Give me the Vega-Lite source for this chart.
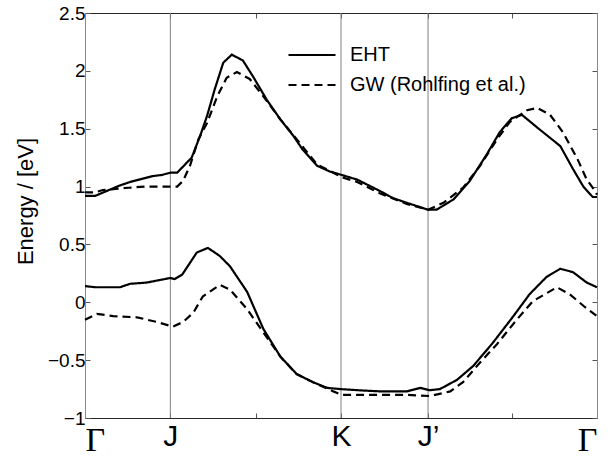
{
  "$schema": "https://vega.github.io/schema/vega-lite/v6.json",
  "autosize": {"type": "none"},
  "padding": {"left": 85, "top": 13, "right": 13, "bottom": 40},
  "width": 512,
  "height": 405,
  "background": "white",
  "config": {
    "view": {"stroke": null},
    "font": "Liberation Sans"
  },
  "datasets": {
    "kpts": [{"x": 1}, {"x": 3}, {"x": 4.02}],
    "bands": [
      {"x": 0, "E": 0.92, "s": "EHT", "b": "u"}, {"x": 0.12, "E": 0.92, "s": "EHT", "b": "u"}, {"x": 0.41, "E": 1.01, "s": "EHT", "b": "u"}, {"x": 0.53, "E": 1.04, "s": "EHT", "b": "u"}, {"x": 0.79, "E": 1.09, "s": "EHT", "b": "u"}, {"x": 0.9, "E": 1.1, "s": "EHT", "b": "u"}, {"x": 1.0, "E": 1.12, "s": "EHT", "b": "u"}, {"x": 1.08, "E": 1.12, "s": "EHT", "b": "u"}, {"x": 1.25, "E": 1.25, "s": "EHT", "b": "u"}, {"x": 1.35, "E": 1.44, "s": "EHT", "b": "u"}, {"x": 1.43, "E": 1.61, "s": "EHT", "b": "u"}, {"x": 1.52, "E": 1.84, "s": "EHT", "b": "u"}, {"x": 1.62, "E": 2.07, "s": "EHT", "b": "u"}, {"x": 1.72, "E": 2.14, "s": "EHT", "b": "u"}, {"x": 1.85, "E": 2.09, "s": "EHT", "b": "u"}, {"x": 1.97, "E": 1.95, "s": "EHT", "b": "u"}, {"x": 2.13, "E": 1.75, "s": "EHT", "b": "u"}, {"x": 2.29, "E": 1.58, "s": "EHT", "b": "u"}, {"x": 2.44, "E": 1.44, "s": "EHT", "b": "u"}, {"x": 2.55, "E": 1.32, "s": "EHT", "b": "u"}, {"x": 2.72, "E": 1.18, "s": "EHT", "b": "u"}, {"x": 2.87, "E": 1.13, "s": "EHT", "b": "u"}, {"x": 3.01, "E": 1.1, "s": "EHT", "b": "u"}, {"x": 3.19, "E": 1.06, "s": "EHT", "b": "u"}, {"x": 3.46, "E": 0.96, "s": "EHT", "b": "u"}, {"x": 3.61, "E": 0.9, "s": "EHT", "b": "u"}, {"x": 3.77, "E": 0.86, "s": "EHT", "b": "u"}, {"x": 4.02, "E": 0.8, "s": "EHT", "b": "u"}, {"x": 4.12, "E": 0.8, "s": "EHT", "b": "u"}, {"x": 4.32, "E": 0.89, "s": "EHT", "b": "u"}, {"x": 4.51, "E": 1.05, "s": "EHT", "b": "u"}, {"x": 4.71, "E": 1.28, "s": "EHT", "b": "u"}, {"x": 4.86, "E": 1.47, "s": "EHT", "b": "u"}, {"x": 5.0, "E": 1.59, "s": "EHT", "b": "u"}, {"x": 5.12, "E": 1.62, "s": "EHT", "b": "u"}, {"x": 5.3, "E": 1.51, "s": "EHT", "b": "u"}, {"x": 5.57, "E": 1.35, "s": "EHT", "b": "u"}, {"x": 5.72, "E": 1.15, "s": "EHT", "b": "u"}, {"x": 5.84, "E": 1.0, "s": "EHT", "b": "u"}, {"x": 5.95, "E": 0.91, "s": "EHT", "b": "u"}, {"x": 6.0, "E": 0.91, "s": "EHT", "b": "u"},
      {"x": 0, "E": 0.95, "s": "GW (Rohlfing et al.)", "b": "u"}, {"x": 0.12, "E": 0.95, "s": "GW (Rohlfing et al.)", "b": "u"}, {"x": 0.21, "E": 0.97, "s": "GW (Rohlfing et al.)", "b": "u"}, {"x": 0.51, "E": 0.99, "s": "GW (Rohlfing et al.)", "b": "u"}, {"x": 0.72, "E": 1.0, "s": "GW (Rohlfing et al.)", "b": "u"}, {"x": 1.08, "E": 1.0, "s": "GW (Rohlfing et al.)", "b": "u"}, {"x": 1.15, "E": 1.05, "s": "GW (Rohlfing et al.)", "b": "u"}, {"x": 1.23, "E": 1.18, "s": "GW (Rohlfing et al.)", "b": "u"}, {"x": 1.33, "E": 1.41, "s": "GW (Rohlfing et al.)", "b": "u"}, {"x": 1.43, "E": 1.55, "s": "GW (Rohlfing et al.)", "b": "u"}, {"x": 1.55, "E": 1.78, "s": "GW (Rohlfing et al.)", "b": "u"}, {"x": 1.66, "E": 1.94, "s": "GW (Rohlfing et al.)", "b": "u"}, {"x": 1.78, "E": 1.99, "s": "GW (Rohlfing et al.)", "b": "u"}, {"x": 1.93, "E": 1.93, "s": "GW (Rohlfing et al.)", "b": "u"}, {"x": 2.09, "E": 1.78, "s": "GW (Rohlfing et al.)", "b": "u"}, {"x": 2.29, "E": 1.58, "s": "GW (Rohlfing et al.)", "b": "u"}, {"x": 2.48, "E": 1.41, "s": "GW (Rohlfing et al.)", "b": "u"}, {"x": 2.72, "E": 1.19, "s": "GW (Rohlfing et al.)", "b": "u"}, {"x": 2.91, "E": 1.12, "s": "GW (Rohlfing et al.)", "b": "u"}, {"x": 3.01, "E": 1.08, "s": "GW (Rohlfing et al.)", "b": "u"}, {"x": 3.19, "E": 1.04, "s": "GW (Rohlfing et al.)", "b": "u"}, {"x": 3.46, "E": 0.94, "s": "GW (Rohlfing et al.)", "b": "u"}, {"x": 3.77, "E": 0.85, "s": "GW (Rohlfing et al.)", "b": "u"}, {"x": 4.02, "E": 0.8, "s": "GW (Rohlfing et al.)", "b": "u"}, {"x": 4.2, "E": 0.86, "s": "GW (Rohlfing et al.)", "b": "u"}, {"x": 4.43, "E": 0.99, "s": "GW (Rohlfing et al.)", "b": "u"}, {"x": 4.63, "E": 1.18, "s": "GW (Rohlfing et al.)", "b": "u"}, {"x": 4.83, "E": 1.41, "s": "GW (Rohlfing et al.)", "b": "u"}, {"x": 4.98, "E": 1.56, "s": "GW (Rohlfing et al.)", "b": "u"}, {"x": 5.18, "E": 1.66, "s": "GW (Rohlfing et al.)", "b": "u"}, {"x": 5.3, "E": 1.68, "s": "GW (Rohlfing et al.)", "b": "u"}, {"x": 5.45, "E": 1.62, "s": "GW (Rohlfing et al.)", "b": "u"}, {"x": 5.6, "E": 1.47, "s": "GW (Rohlfing et al.)", "b": "u"}, {"x": 5.77, "E": 1.24, "s": "GW (Rohlfing et al.)", "b": "u"}, {"x": 5.88, "E": 1.06, "s": "GW (Rohlfing et al.)", "b": "u"}, {"x": 5.98, "E": 0.96, "s": "GW (Rohlfing et al.)", "b": "u"}, {"x": 6.0, "E": 0.93, "s": "GW (Rohlfing et al.)", "b": "u"},
      {"x": 0, "E": 0.14, "s": "EHT", "b": "l"}, {"x": 0.12, "E": 0.13, "s": "EHT", "b": "l"}, {"x": 0.41, "E": 0.13, "s": "EHT", "b": "l"}, {"x": 0.53, "E": 0.16, "s": "EHT", "b": "l"}, {"x": 0.72, "E": 0.17, "s": "EHT", "b": "l"}, {"x": 1.0, "E": 0.21, "s": "EHT", "b": "l"}, {"x": 1.05, "E": 0.2, "s": "EHT", "b": "l"}, {"x": 1.14, "E": 0.24, "s": "EHT", "b": "l"}, {"x": 1.31, "E": 0.43, "s": "EHT", "b": "l"}, {"x": 1.44, "E": 0.47, "s": "EHT", "b": "l"}, {"x": 1.58, "E": 0.4, "s": "EHT", "b": "l"}, {"x": 1.7, "E": 0.31, "s": "EHT", "b": "l"}, {"x": 1.9, "E": 0.09, "s": "EHT", "b": "l"}, {"x": 2.09, "E": -0.23, "s": "EHT", "b": "l"}, {"x": 2.29, "E": -0.47, "s": "EHT", "b": "l"}, {"x": 2.48, "E": -0.62, "s": "EHT", "b": "l"}, {"x": 2.67, "E": -0.69, "s": "EHT", "b": "l"}, {"x": 2.84, "E": -0.74, "s": "EHT", "b": "l"}, {"x": 2.99, "E": -0.75, "s": "EHT", "b": "l"}, {"x": 3.2, "E": -0.76, "s": "EHT", "b": "l"}, {"x": 3.46, "E": -0.77, "s": "EHT", "b": "l"}, {"x": 3.77, "E": -0.77, "s": "EHT", "b": "l"}, {"x": 3.93, "E": -0.74, "s": "EHT", "b": "l"}, {"x": 4.04, "E": -0.76, "s": "EHT", "b": "l"}, {"x": 4.16, "E": -0.75, "s": "EHT", "b": "l"}, {"x": 4.36, "E": -0.67, "s": "EHT", "b": "l"}, {"x": 4.55, "E": -0.55, "s": "EHT", "b": "l"}, {"x": 4.78, "E": -0.35, "s": "EHT", "b": "l"}, {"x": 5.02, "E": -0.12, "s": "EHT", "b": "l"}, {"x": 5.21, "E": 0.07, "s": "EHT", "b": "l"}, {"x": 5.41, "E": 0.22, "s": "EHT", "b": "l"}, {"x": 5.57, "E": 0.29, "s": "EHT", "b": "l"}, {"x": 5.72, "E": 0.26, "s": "EHT", "b": "l"}, {"x": 5.88, "E": 0.17, "s": "EHT", "b": "l"}, {"x": 6.0, "E": 0.13, "s": "EHT", "b": "l"},
      {"x": 0, "E": -0.15, "s": "GW (Rohlfing et al.)", "b": "l"}, {"x": 0.14, "E": -0.1, "s": "GW (Rohlfing et al.)", "b": "l"}, {"x": 0.33, "E": -0.12, "s": "GW (Rohlfing et al.)", "b": "l"}, {"x": 0.61, "E": -0.13, "s": "GW (Rohlfing et al.)", "b": "l"}, {"x": 0.84, "E": -0.17, "s": "GW (Rohlfing et al.)", "b": "l"}, {"x": 1.03, "E": -0.21, "s": "GW (Rohlfing et al.)", "b": "l"}, {"x": 1.15, "E": -0.17, "s": "GW (Rohlfing et al.)", "b": "l"}, {"x": 1.27, "E": -0.09, "s": "GW (Rohlfing et al.)", "b": "l"}, {"x": 1.38, "E": 0.05, "s": "GW (Rohlfing et al.)", "b": "l"}, {"x": 1.58, "E": 0.15, "s": "GW (Rohlfing et al.)", "b": "l"}, {"x": 1.7, "E": 0.11, "s": "GW (Rohlfing et al.)", "b": "l"}, {"x": 1.9, "E": -0.06, "s": "GW (Rohlfing et al.)", "b": "l"}, {"x": 2.09, "E": -0.26, "s": "GW (Rohlfing et al.)", "b": "l"}, {"x": 2.29, "E": -0.47, "s": "GW (Rohlfing et al.)", "b": "l"}, {"x": 2.48, "E": -0.62, "s": "GW (Rohlfing et al.)", "b": "l"}, {"x": 2.67, "E": -0.69, "s": "GW (Rohlfing et al.)", "b": "l"}, {"x": 2.91, "E": -0.77, "s": "GW (Rohlfing et al.)", "b": "l"}, {"x": 3.01, "E": -0.8, "s": "GW (Rohlfing et al.)", "b": "l"}, {"x": 3.26, "E": -0.8, "s": "GW (Rohlfing et al.)", "b": "l"}, {"x": 3.77, "E": -0.8, "s": "GW (Rohlfing et al.)", "b": "l"}, {"x": 4.04, "E": -0.81, "s": "GW (Rohlfing et al.)", "b": "l"}, {"x": 4.28, "E": -0.77, "s": "GW (Rohlfing et al.)", "b": "l"}, {"x": 4.43, "E": -0.69, "s": "GW (Rohlfing et al.)", "b": "l"}, {"x": 4.63, "E": -0.52, "s": "GW (Rohlfing et al.)", "b": "l"}, {"x": 4.83, "E": -0.36, "s": "GW (Rohlfing et al.)", "b": "l"}, {"x": 5.06, "E": -0.15, "s": "GW (Rohlfing et al.)", "b": "l"}, {"x": 5.25, "E": 0.01, "s": "GW (Rohlfing et al.)", "b": "l"}, {"x": 5.53, "E": 0.13, "s": "GW (Rohlfing et al.)", "b": "l"}, {"x": 5.68, "E": 0.07, "s": "GW (Rohlfing et al.)", "b": "l"}, {"x": 5.84, "E": -0.03, "s": "GW (Rohlfing et al.)", "b": "l"}, {"x": 6.0, "E": -0.12, "s": "GW (Rohlfing et al.)", "b": "l"}
    ]
  },
  "layer": [
    {
      "data": {"name": "kpts"},
      "mark": {"type": "rule", "color": "#808080", "strokeWidth": 1},
      "encoding": {
        "x": {
          "field": "x", "type": "quantitative",
          "scale": {"domain": [0, 6], "nice": false, "zero": false},
          "axis": {
            "orient": "bottom", "title": null, "values": [0, 6],
            "labelExpr": "'Γ'", "labelFont": "Liberation Serif", "labelFontSize": 34,
            "labelColor": "black", "labelFlush": true, "labelPadding": 5,
            "ticks": false, "domain": false, "grid": false
          }
        }
      }
    },
    {
      "data": {"name": "bands"},
      "mark": {"type": "line", "color": "black", "strokeWidth": 2.2},
      "encoding": {
        "x": {
          "field": "x", "type": "quantitative",
          "scale": {"domain": [0, 6], "nice": false, "zero": false},
          "axis": {
            "orient": "bottom", "title": null, "values": [0, 1, 2, 3, 4.02, 5, 6],
            "labelExpr": "datum.value == 1 ? 'J' : datum.value == 3 ? 'K' : datum.value == 4.02 ? 'J’' : ''",
            "labelFont": "Liberation Sans", "labelFontSize": 30, "labelColor": "black",
            "labelPadding": 8, "tickSize": -5, "tickColor": "#555",
            "domainColor": "#262626", "grid": false
          }
        },
        "y": {
          "field": "E", "type": "quantitative",
          "scale": {"domain": [-1, 2.5], "nice": false, "zero": false},
          "axis": {
            "orient": "left", "title": "Energy / [eV]",
            "values": [-1, -0.5, 0, 0.5, 1, 1.5, 2, 2.5], "format": "~g",
            "labelFont": "Liberation Sans", "labelFontSize": 19, "labelColor": "black",
            "labelPadding": 5, "tickSize": -5, "tickColor": "#555",
            "domainColor": "#8a8a8a", "grid": false,
            "titleFont": "Liberation Sans", "titleFontSize": 22, "titleFontWeight": "normal",
            "titleColor": "black", "titlePadding": 10, "titleY": 188
          }
        },
        "detail": {"field": "b"},
        "strokeDash": {
          "field": "s", "type": "nominal",
          "scale": {"domain": ["EHT", "GW (Rohlfing et al.)"], "range": [[1, 0], [8, 5]]},
          "legend": {
            "title": null, "orient": "none", "legendX": 202, "legendY": 27,
            "symbolType": "stroke", "symbolSize": 2209, "symbolStrokeWidth": 2.2,
            "symbolStrokeColor": "black", "labelFont": "Liberation Sans",
            "labelFontSize": 20, "labelColor": "black", "labelOffset": 13,
            "labelLimit": 400, "clipHeight": 30, "rowPadding": 0, "padding": 0
          }
        }
      }
    },
    {
      "data": {"name": "bands"},
      "mark": {"type": "line", "opacity": 0},
      "encoding": {
        "x": {
          "field": "x", "type": "quantitative",
          "scale": {"domain": [0, 6], "nice": false, "zero": false},
          "axis": {
            "orient": "top", "title": null, "values": [0, 1, 2, 3, 4.02, 5, 6],
            "labels": false, "tickSize": -5, "tickColor": "#555",
            "domainColor": "#262626", "grid": false
          }
        },
        "y": {
          "field": "E", "type": "quantitative",
          "scale": {"domain": [-1, 2.5], "nice": false, "zero": false},
          "axis": {
            "orient": "right", "title": null,
            "values": [-1, -0.5, 0, 0.5, 1, 1.5, 2, 2.5],
            "labels": false, "tickSize": -5, "tickColor": "#555",
            "domainColor": "#8a8a8a", "grid": false
          }
        },
        "detail": {"field": "b"}
      }
    }
  ],
  "resolve": {"axis": {"x": "independent", "y": "independent"}}
}
